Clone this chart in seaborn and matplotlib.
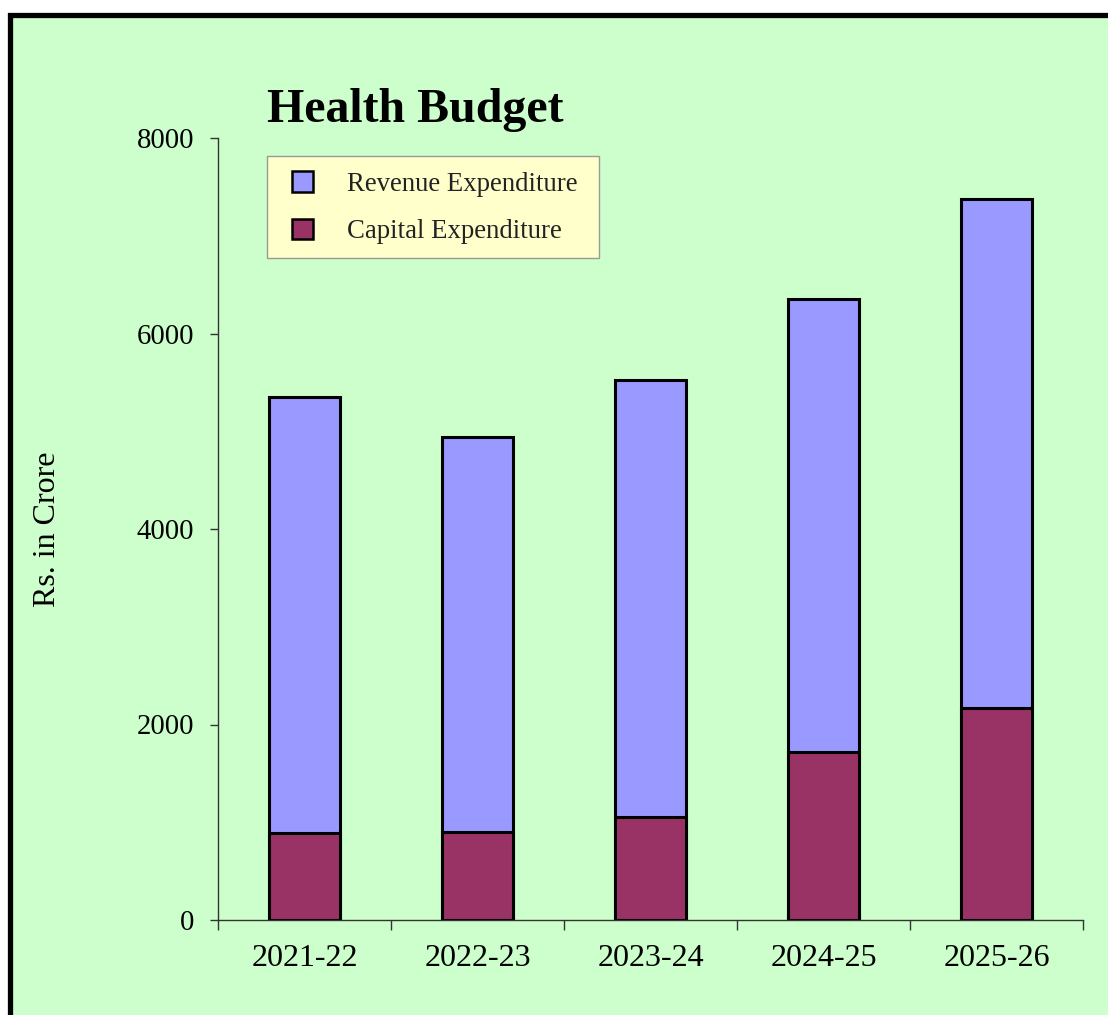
import matplotlib
matplotlib.use("Agg")
import matplotlib.pyplot as plt
from matplotlib.patches import Patch, Rectangle
from matplotlib.ticker import FixedLocator
import seaborn as sns
import pandas as pd

years = ['2021-22', '2022-23', '2023-24', '2024-25', '2025-26']
capital = [890, 900, 1054, 1719, 2169]
revenue = [4460, 4041, 4470, 4634, 5207]

df = pd.DataFrame({'Year': years, 'Capital': capital, 'Revenue': revenue})
df['Total'] = df['Capital'] + df['Revenue']

sns.set_theme(style='white')
plt.rcParams['font.family'] = ['Liberation Serif', 'DejaVu Serif']
plt.rcParams['text.color'] = 'black'
plt.rcParams['axes.labelcolor'] = 'black'
plt.rcParams['xtick.color'] = 'black'
plt.rcParams['ytick.color'] = 'black'

rev_color = '#9999FF'
cap_color = '#993366'
bg = '#CCFFCC'

fig = plt.figure(figsize=(11.08, 10.15), dpi=100)
fig.patch.set_facecolor('white')
# green panel with thick black border (right/bottom edges run off the picture)
fig.patches.append(Rectangle((9.5 / 1108, -0.1), 1.2, 1.1 - 15 / 1015,
                             transform=fig.transFigure, facecolor=bg,
                             edgecolor='black', linewidth=3.8, zorder=-10))
# legend box
fig.patches.append(Rectangle((267 / 1108, 1 - 258 / 1015), 332 / 1108, 102 / 1015,
                             transform=fig.transFigure, facecolor='#FFFFCC',
                             edgecolor='#999999', linewidth=1.0, zorder=-5))

ax = fig.add_axes([218 / 1108, 1 - 920 / 1015, 865 / 1108, 782 / 1015])
ax.set_facecolor('none')

sns.barplot(data=df, x='Year', y='Total', color=rev_color, width=0.405,
            edgecolor='black', linewidth=2.2, saturation=1, ax=ax)
sns.barplot(data=df, x='Year', y='Capital', color=cap_color, width=0.405,
            edgecolor='black', linewidth=2.2, saturation=1, ax=ax)

ax.set_xlim(-0.5, 4.5)
ax.set_ylim(0, 8000)
ax.set_yticks([0, 2000, 4000, 6000, 8000])
ax.set_xlabel('')
ax.set_ylabel('Rs. in Crore', fontsize=23)
ax.yaxis.set_label_coords(-0.18, 0.5)

sns.despine(ax=ax)
for side in ['left', 'bottom']:
    ax.spines[side].set_color('#333333')
    ax.spines[side].set_linewidth(1.0)

ax.xaxis.set_minor_locator(FixedLocator([-0.5, 0.5, 1.5, 2.5, 3.5, 4.5]))
ax.tick_params(axis='x', which='major', length=0, labelsize=23, pad=17)
ax.tick_params(axis='x', which='minor', bottom=True, length=7, width=1, color='#333333')
ax.tick_params(axis='y', left=True, length=6, width=1, color='#333333', labelsize=20.7, pad=11)

fig.text(267 / 1108, 1 - 122 / 1015, 'Health Budget', fontsize=34.5, fontweight='bold',
         ha='left', va='baseline', color='black')

handles = [Patch(facecolor=rev_color, edgecolor='black', linewidth=1.8, label='Revenue Expenditure'),
           Patch(facecolor=cap_color, edgecolor='black', linewidth=1.8, label='Capital Expenditure')]
leg = ax.legend(handles=handles, loc='upper left', bbox_to_anchor=(292 / 1108, 1 - 171 / 1015),
                bbox_transform=fig.transFigure, fontsize=19.3, frameon=False,
                handlelength=0.8, handleheight=0.8, handletextpad=1.25,
                labelspacing=0.82, borderpad=0, borderaxespad=0)
for t in leg.get_texts():
    t.set_color('#222222')

fig.savefig('out.png', dpi=100)
